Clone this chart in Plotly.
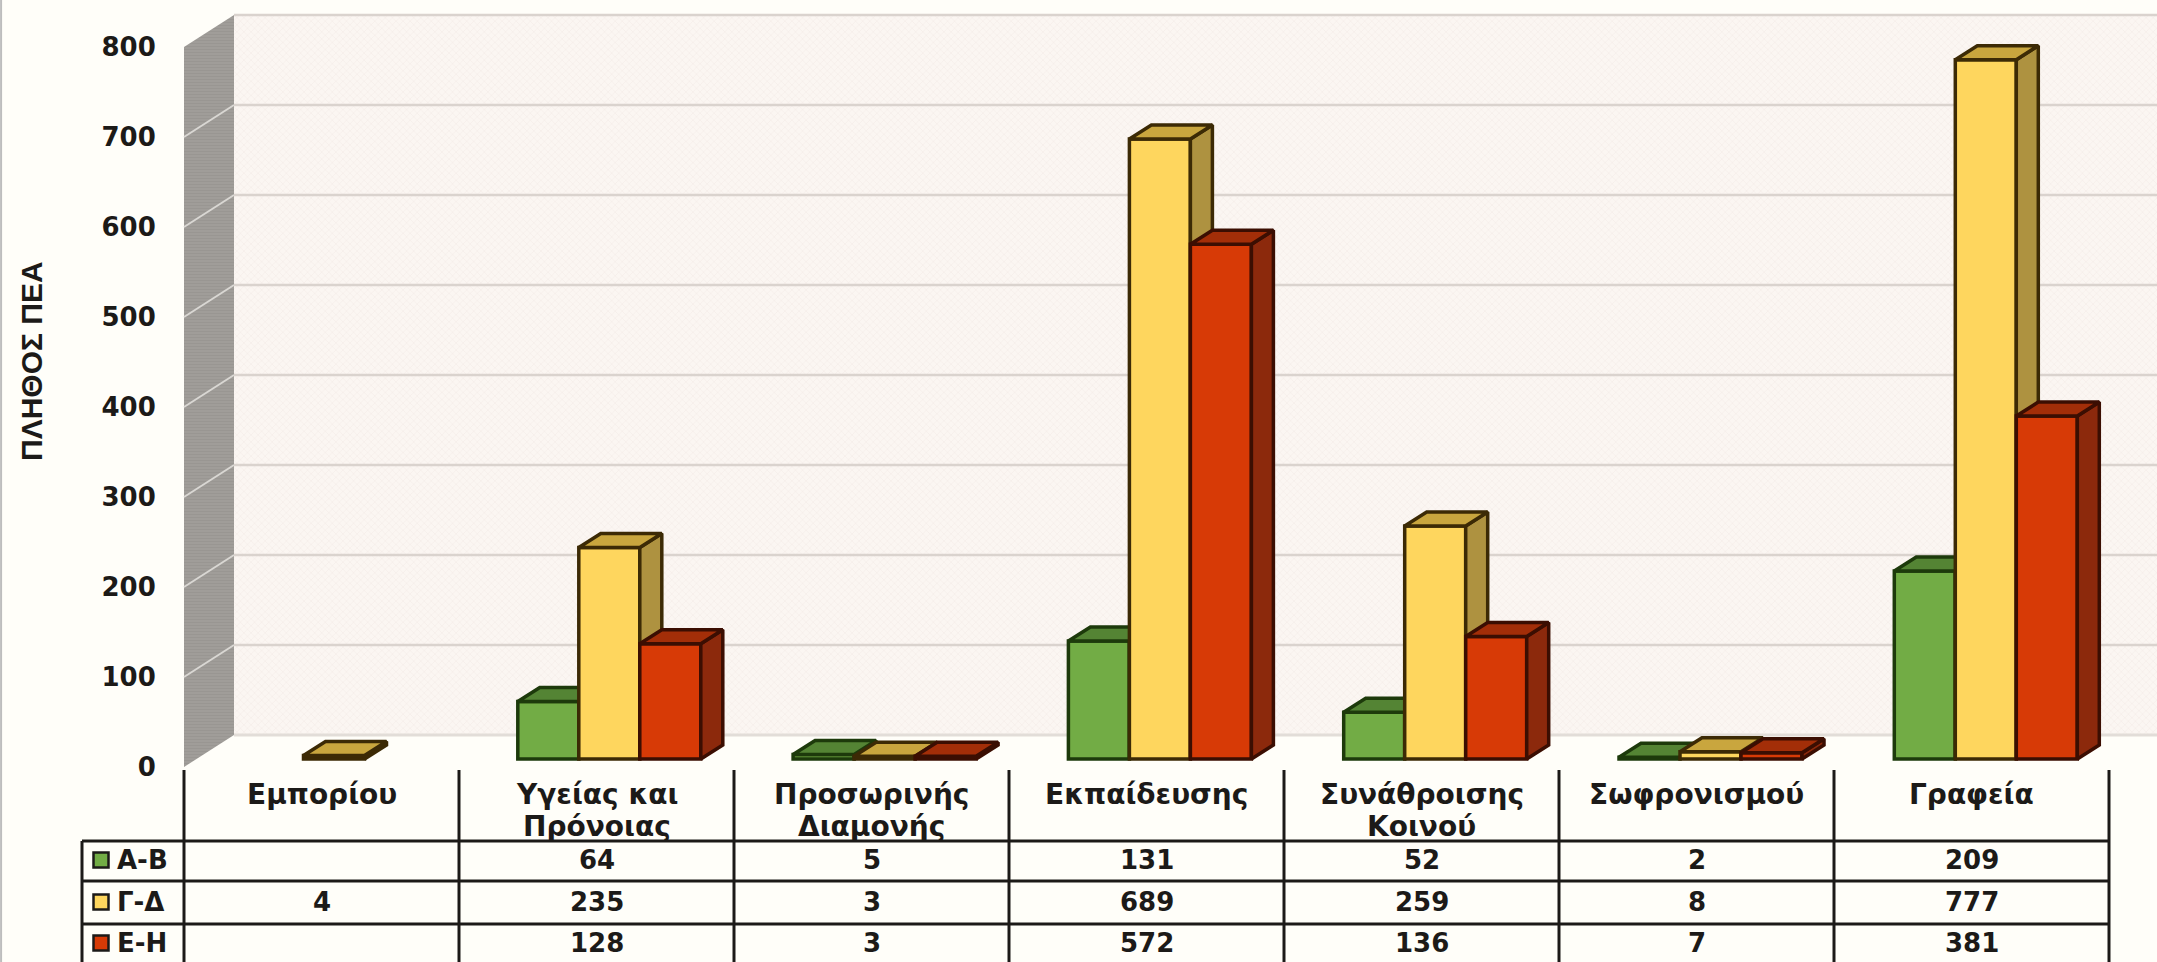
import plotly.graph_objects as go

# Building categories and floor-area groups
categories = ["Εμπορίου", "Υγείας και<br>Πρόνοιας", "Προσωρινής<br>Διαμονής", "Εκπαίδευσης",
              "Συνάθροισης<br>Κοινού", "Σωφρονισμού", "Γραφεία"]
series_names = ["Α-Β", "Γ-Δ", "Ε-Η"]
values_ab = [None, 64, 5, 131, 52, 2, 209]
values_gd = [4, 235, 3, 689, 259, 8, 777]
values_eh = [None, 128, 3, 572, 136, 7, 381]
y_ticks = [0, 100, 200, 300, 400, 500, 600, 700, 800]
y_title = "ΠΛΗΘΟΣ ΠΕΑ"

W, H = 2157, 962
PX_PER_UNIT = 0.9          # vertical scale of every depth plane
FRONT_ZERO = 767           # canvas row of value 0 on the front plane
BAR_ZERO = 759             # canvas row of value 0 on the bar plane
BACK_ZERO = 735            # canvas row of value 0 on the back wall
COL_STEP, COL_FIRST = 275.0, 321.5     # table columns
BAR_STEP, BAR_FIRST = 275.3, 334.0     # bar groups
BAR_W = 61 / BAR_STEP
BAR_DX, BAR_DY = 22 / BAR_STEP, 14 / PX_PER_UNIT   # bar depth in axis units
WALL_X0, WALL_X1 = 184, 234
TABLE_LEFT, TABLE_RIGHT = 82, 2109
ROW_LINES = [841, 881, 924]
ROW_CENTRES = [860, 902, 943]
CAT_LINE_ROWS = [794, 826]
INK = "#1c1a18"
BG = "#FFFEF9"

FONT_NUM = dict(family="DejaVu Sans", size=26, color=INK, weight="bold")
FONT_CAT = dict(family="DejaVu Sans", size=28, color=INK, weight="bold")


def col_x(px):
    return (px - COL_FIRST) / COL_STEP


def front_y(py):
    return (FRONT_ZERO - py) / PX_PER_UNIT


base_x_range = [col_x(0), col_x(W)]
base_y_range = [front_y(H), front_y(0)]
bar_x_range = [(0 - BAR_FIRST) / BAR_STEP, (W - BAR_FIRST) / BAR_STEP]
bar_y_range = [(BAR_ZERO - H) / PX_PER_UNIT, BAR_ZERO / PX_PER_UNIT]

fig = go.Figure()


def add_wall():
    x0, x1 = col_x(WALL_X0), col_x(WALL_X1)
    xr = col_x(W)
    back_lift = (FRONT_ZERO - BACK_ZERO) / PX_PER_UNIT
    top = y_ticks[-1]
    # back wall
    fig.add_trace(go.Scatter(
        x=[x1, xr, xr, x1, x1],
        y=[back_lift, back_lift, top + back_lift, top + back_lift, back_lift],
        mode="lines", fill="toself", line=dict(width=0), hoverinfo="skip", showlegend=False,
        fillcolor="#FAF5F1",
        fillpattern=dict(shape="x", size=5, solidity=0.3, fgcolor="#F1E8E3", bgcolor="#FBF6F2"),
    ))
    # side wall
    fig.add_trace(go.Scatter(
        x=[x0, x1, x1, x0, x0],
        y=[0, back_lift, top + back_lift, top, 0],
        mode="lines", fill="toself", line=dict(width=0), hoverinfo="skip", showlegend=False,
        fillcolor="#9D9A96",
        fillpattern=dict(shape="-", size=3, solidity=0.3, fgcolor="#918E8A", bgcolor="#A09D99"),
    ))
    # grid lines: across the back wall, then down the side wall to the front plane
    for t in y_ticks:
        fig.add_trace(go.Scatter(
            x=[xr, x1], y=[t + back_lift, t + back_lift], mode="lines",
            line=dict(color="#DAD3CE", width=2.5), hoverinfo="skip", showlegend=False,
        ))
        if t not in (y_ticks[0], y_ticks[-1]):
            fig.add_trace(go.Scatter(
                x=[x1, x0], y=[t + back_lift, t], mode="lines",
                line=dict(color="#D9D7D3", width=2), hoverinfo="skip", showlegend=False,
            ))
    # floor edge of the side wall
    fig.add_trace(go.Scatter(
        x=[xr, x1], y=[back_lift, back_lift], mode="lines",
        line=dict(color="#E2DDD8", width=2.5), hoverinfo="skip", showlegend=False,
    ))


def add_series(name, values, shift, axis_no, face, side, top, edge):
    xa, ya = f"x{axis_no}", f"y{axis_no}"
    xs = [i + shift * BAR_W for i in range(len(values))]
    fig.add_trace(go.Bar(
        x=xs, y=values, width=BAR_W, name=name, xaxis=xa, yaxis=ya, showlegend=False,
        marker=dict(color=face, line=dict(color=edge, width=3.5)),
    ))
    side_x, side_y, top_x, top_y = [], [], [], []
    for c, v in zip(xs, values):
        if v is None:
            continue
        l, r = c - BAR_W / 2, c + BAR_W / 2
        side_x += [r, r + BAR_DX, r + BAR_DX, r, r, None]
        side_y += [0, BAR_DY, v + BAR_DY, v, 0, None]
        top_x += [l, r, r + BAR_DX, l + BAR_DX, l, None]
        top_y += [v, v, v + BAR_DY, v + BAR_DY, v, None]
    for px_, py_, col in ((side_x, side_y, side), (top_x, top_y, top)):
        fig.add_trace(go.Scatter(
            x=px_, y=py_, xaxis=xa, yaxis=ya, mode="lines", fill="toself", fillcolor=col,
            line=dict(color=edge, width=3.5, simplify=False), hoverinfo="skip", showlegend=False,
        ))


add_wall()

palette = [
    ("#72AC45", "#4F7F30", "#548434", "#1D3A0B"),
    ("#FED65E", "#AE9240", "#C9A63E", "#3C2A05"),
    ("#D73A06", "#8C290C", "#A32E08", "#3B0E02"),
]
all_series = [values_ab, values_gd, values_eh]
for k, vals in enumerate(all_series):
    add_series(series_names[k], vals, k - 1, k + 2, *palette[k])

# Legend keys in the first table column
fig.add_trace(go.Scatter(
    x=[col_x(101)] * 3, y=[front_y(c) for c in ROW_CENTRES], mode="markers",
    marker=dict(symbol="square", size=15, color=[p[0] for p in palette],
                line=dict(color=INK, width=2.5)),
    hoverinfo="skip", showlegend=False,
))

shapes = []
# Table grid
for i in range(len(categories) + 1):
    shapes.append(dict(type="line", xref="x", yref="y", x0=i - 0.5, x1=i - 0.5,
                       y0=front_y(770), y1=front_y(H), line=dict(color=INK, width=3)))
shapes.append(dict(type="line", xref="x", yref="y", x0=col_x(TABLE_LEFT), x1=col_x(TABLE_LEFT),
                   y0=front_y(ROW_LINES[0]), y1=front_y(H), line=dict(color=INK, width=3)))
for r in ROW_LINES:
    shapes.append(dict(type="line", xref="x", yref="y", x0=col_x(TABLE_LEFT), x1=col_x(TABLE_RIGHT),
                       y0=front_y(r), y1=front_y(r), line=dict(color=INK, width=3)))
# Page edge
shapes.append(dict(type="line", xref="paper", yref="paper", x0=0.0005, x1=0.0005, y0=0, y1=1,
                   line=dict(color="#BDBDBD", width=2)))

annotations = []
for i, cat in enumerate(categories):
    for line, row in zip(cat.split("<br>"), CAT_LINE_ROWS):
        annotations.append(dict(x=i, y=front_y(row), xref="x", yref="y", text=line, showarrow=False,
                                xanchor="center", yanchor="middle", font=FONT_CAT, borderpad=0))
for name, vals, cy in zip(series_names, all_series, ROW_CENTRES):
    annotations.append(dict(x=col_x(115), y=front_y(cy), xref="x", yref="y", text=name, showarrow=False,
                            xanchor="left", yanchor="middle", font=FONT_NUM))
    for i, v in enumerate(vals):
        if v is not None:
            annotations.append(dict(x=i, y=front_y(cy), xref="x", yref="y", text=str(v), showarrow=False,
                                    xanchor="center", yanchor="middle", font=FONT_NUM))
annotations.append(dict(x=col_x(31), y=front_y(361), xref="x", yref="y", text=y_title, showarrow=False,
                        textangle=-90, xanchor="center", yanchor="middle",
                        font=dict(family="Liberation Sans", size=30, color=INK, weight="bold")))

layout = dict(
    width=W, height=H, margin=dict(l=0, r=0, t=0, b=0), autosize=False,
    paper_bgcolor=BG, plot_bgcolor=BG, showlegend=False, shapes=shapes, annotations=annotations,
    xaxis=dict(range=base_x_range, visible=False, fixedrange=True),
    yaxis=dict(range=base_y_range, anchor="free", position=WALL_X0 / W, tickmode="array",
               tickvals=y_ticks, ticktext=[str(t) for t in y_ticks], showgrid=False, zeroline=False,
               showline=False, ticks="outside", ticklen=23, tickcolor="rgba(0,0,0,0)",
               tickfont=FONT_NUM, fixedrange=True),
)
for n in (2, 3, 4):
    layout[f"xaxis{n}"] = dict(range=bar_x_range, overlaying="x", visible=False, fixedrange=True)
    layout[f"yaxis{n}"] = dict(range=bar_y_range, overlaying="y", visible=False, fixedrange=True)

fig.update_layout(**layout)
fig.write_html("out.html")
